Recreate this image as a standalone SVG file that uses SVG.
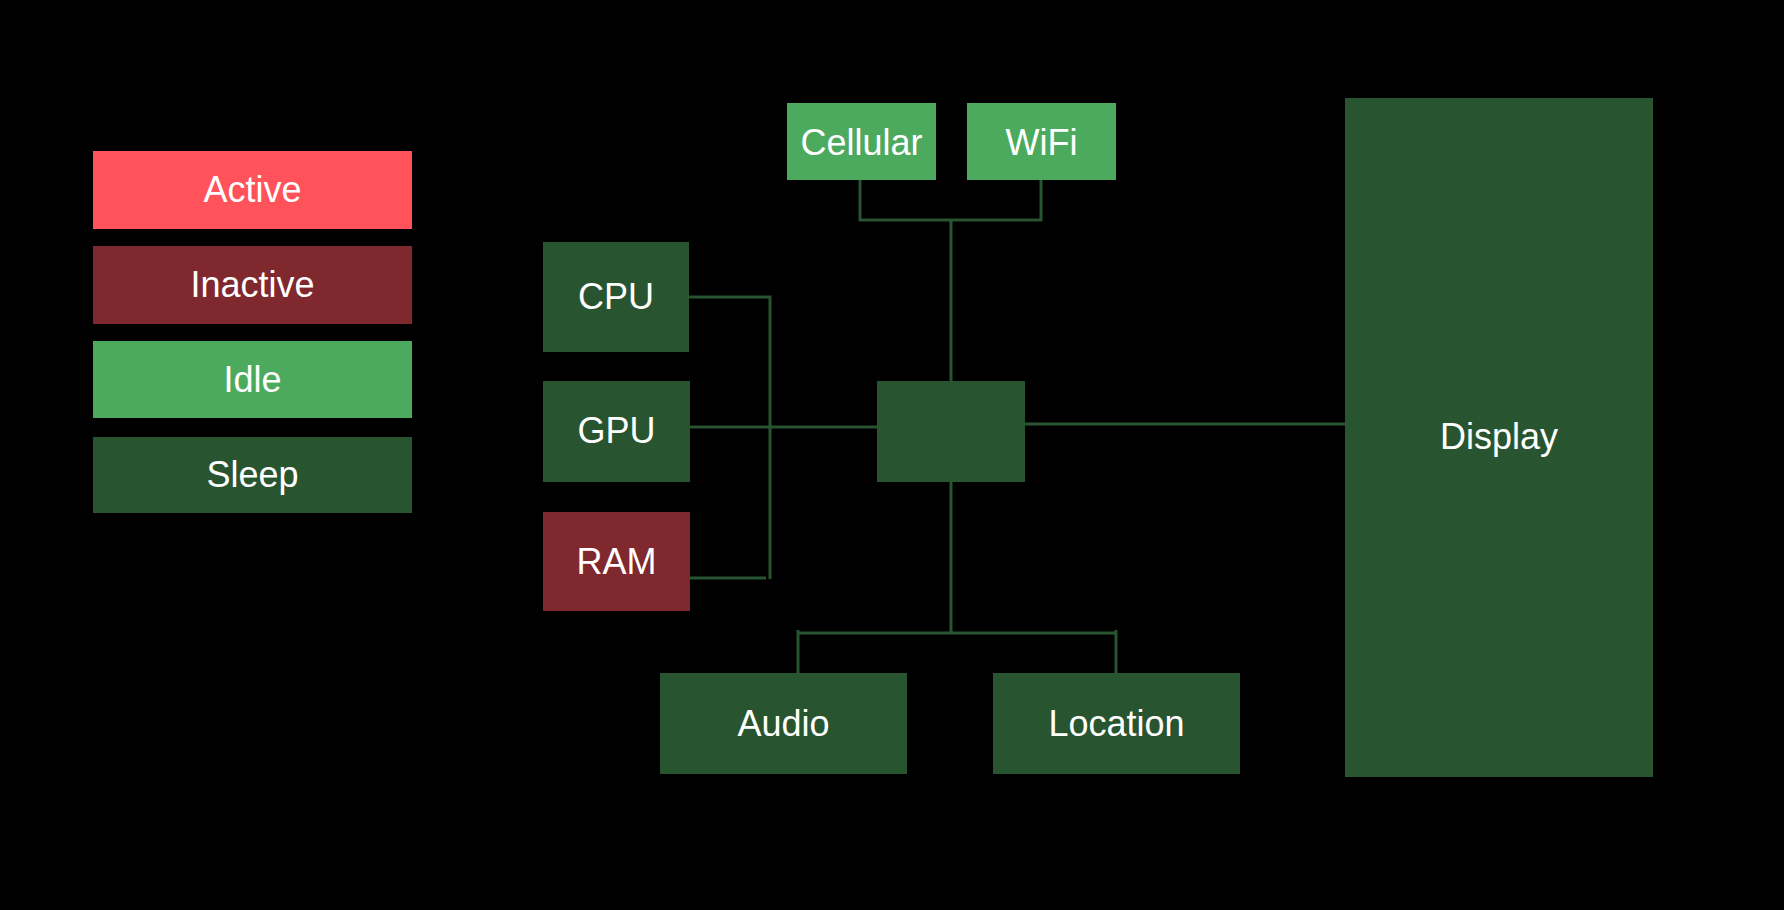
<svg xmlns="http://www.w3.org/2000/svg" width="1784" height="910" viewBox="0 0 1784 910">
<style>
text{font-family:"Liberation Sans",Arial,sans-serif;font-size:36px;fill:#ffffff;text-anchor:middle}
.active{fill:#ff525b}
.inactive{fill:#7f282e}
.idle{fill:#4caa5f}
.sleep{fill:#285530}
.conn{fill:none;stroke:#285530;stroke-width:3}
</style>
<rect width="1784" height="910" fill="#000000"/>
<g id="legend">
<g id="legend-active"><rect class="active" x="93" y="151" width="319" height="78"/><text x="252.5" y="202">Active</text></g>
<g id="legend-inactive"><rect class="inactive" x="93" y="246" width="319" height="78"/><text x="252.5" y="297">Inactive</text></g>
<g id="legend-idle"><rect class="idle" x="93" y="341" width="319" height="77"/><text x="252.5" y="392">Idle</text></g>
<g id="legend-sleep"><rect class="sleep" x="93" y="437" width="319" height="76"/><text x="252.5" y="487">Sleep</text></g>
</g>
<g id="connectors">
<path class="conn" d="M689 297 H770 V579"/>
<path class="conn" d="M690 578 H766"/>
<path class="conn" d="M690 427 H877"/>
<path class="conn" d="M860 180 V220 H1041 V180"/>
<path class="conn" d="M951 220 V381"/>
<path class="conn" d="M1025 424 H1345"/>
<path class="conn" d="M951 482 V633"/>
<path class="conn" d="M798 633 H1116"/>
<path class="conn" d="M798 630 V673"/>
<path class="conn" d="M1116 630 V673"/>
</g>
<g id="cpu"><rect class="sleep" x="543" y="242" width="146" height="110"/><text x="616" y="309">CPU</text></g>
<g id="gpu"><rect class="sleep" x="543" y="381" width="147" height="101"/><text x="616.5" y="443">GPU</text></g>
<g id="ram"><rect class="inactive" x="543" y="512" width="147" height="99"/><text x="616.5" y="574">RAM</text></g>
<g id="hub"><rect class="sleep" x="877" y="381" width="148" height="101"/></g>
<g id="cellular"><rect class="idle" x="787" y="103" width="149" height="77"/><text x="861.5" y="155">Cellular</text></g>
<g id="wifi"><rect class="idle" x="967" y="103" width="149" height="77"/><text x="1041.5" y="155">WiFi</text></g>
<g id="audio"><rect class="sleep" x="660" y="673" width="247" height="101"/><text x="783.5" y="736">Audio</text></g>
<g id="location"><rect class="sleep" x="993" y="673" width="247" height="101"/><text x="1116.5" y="736">Location</text></g>
<g id="display"><rect class="sleep" x="1345" y="98" width="308" height="679"/><text x="1499" y="449">Display</text></g>
</svg>
